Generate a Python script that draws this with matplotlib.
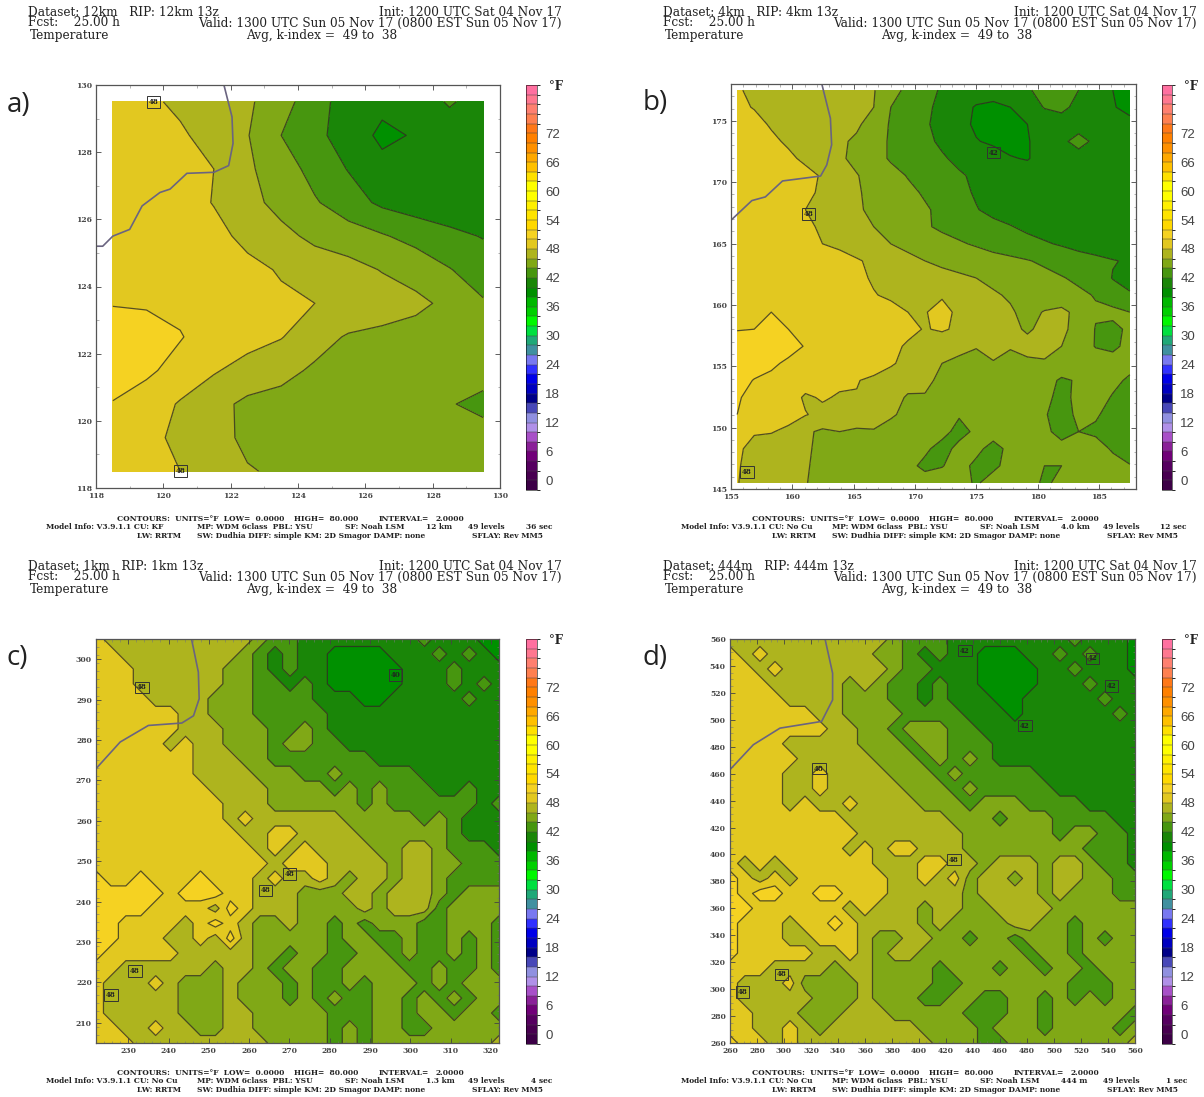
import numpy as np
import matplotlib
matplotlib.use('Agg')
import matplotlib.pyplot as plt
from matplotlib.colors import ListedColormap, BoundaryNorm
from matplotlib.colorbar import ColorbarBase

W, H = 1204, 1097

# temperature (deg F), rows run top to bottom
temp_a = [
    [49.0, 48.4, 47.6, 47.0, 46.3, 44.9, 42.7, 41.2, 40.6, 41.0, 42.2, 41.2],
    [49.3, 48.9, 48.3, 47.2, 46.1, 44.0, 42.4, 41.3, 39.5, 40.2, 41.0, 41.0],
    [49.6, 49.3, 48.7, 48.0, 46.3, 45.0, 43.3, 41.9, 40.7, 40.5, 40.6, 40.5],
    [50.0, 49.6, 49.0, 47.9, 46.7, 45.3, 44.2, 42.9, 41.6, 41.0, 40.7, 40.5],
    [50.0, 49.8, 49.3, 48.7, 47.4, 46.6, 45.5, 44.9, 44.2, 43.3, 42.5, 41.9],
    [50.0, 50.0, 49.7, 49.2, 48.6, 47.8, 47.2, 46.7, 45.9, 45.3, 44.1, 43.0],
    [49.9, 49.8, 49.6, 49.3, 48.9, 48.4, 48.0, 47.6, 47.0, 46.4, 45.6, 44.2],
    [51.0, 50.8, 50.1, 49.2, 48.8, 48.1, 46.8, 45.8, 45.5, 45.3, 45.2, 45.0],
    [50.9, 50.3, 49.4, 48.2, 47.2, 46.6, 45.7, 45.4, 45.2, 45.1, 45.0, 44.6],
    [49.9, 49.2, 47.8, 46.6, 45.6, 45.3, 45.1, 45.0, 45.0, 44.8, 44.1, 43.6],
    [49.5, 48.5, 47.6, 47.0, 45.4, 45.2, 45.1, 45.0, 45.0, 45.0, 44.8, 44.6],
    [49.3, 48.8, 48.0, 47.2, 46.2, 45.6, 45.3, 45.2, 45.2, 45.1, 45.0, 45.0],
]

temp_b = [
    [48.1,47.8,47.5,47.3,47.1,46.9,46.6,46.3,46.1,44.8,43.5,42.6,41.8,41.4,41.2,41,41,41.8,42.6,43,42,40.9,40,39.6],
    [48.4,47.9,47.6,47.4,47.1,46.8,46.6,46.3,46,44,43.2,42.4,41.5,40.9,39.8,39.5,40,41,42.1,42.5,41.4,41,40.1,39.6],
    [49.4,48.6,47.8,47.5,47.2,47,46.6,46.3,45.2,43.8,43,42.2,41.5,40.6,39.7,39.4,39.5,40,40.8,41,41,41,40.6,40.4],
    [49.6,49.2,48.4,47.7,47.3,46.9,46.3,45.7,44.7,43.8,43.1,42.4,41.7,41,40.1,39.7,39.5,39.9,40.6,41.5,42.8,41.5,41.7,41],
    [50,49.7,49.2,48.4,47.6,47,46.3,45.5,44.7,43.8,43.3,42.8,42.2,41.6,41.2,40.8,40.1,39.9,40.6,40.8,41,41,41,41],
    [50,49.9,49.6,49.3,48.6,47.8,46.9,46.1,45.3,44.6,43.9,43.3,42.8,42.2,41.7,41.3,41,40.8,40.8,40.8,40.8,40.8,40.8,40.6],
    [50,49.9,49.6,49.2,48.4,47.7,46.9,46.2,45.5,45,44.4,43.8,43.2,42.5,41.8,41.3,41,40.8,40.8,40.7,40.7,40.7,40.7,40.2],
    [50,49.8,49.5,49,48,47.4,46.8,46.2,45.7,45.2,44.7,44.2,43.6,42.9,42.1,41.5,41.1,40.9,40.8,40.8,40.8,40.8,40.8,40.7],
    [50,49.9,49.7,49.3,48.4,47.7,47.1,46.6,46,45.4,44.8,44.2,43.7,43.3,43,42.5,42.1,41.6,41.2,41,40.8,40.8,40.8,40.8],
    [50,50,49.8,49.4,48.8,48,47.5,47,46.5,46,45.5,45.1,44.6,44.2,43.8,43.4,43,42.6,42.2,41.8,41.3,41,40.8,40.8],
    [50,50,50,49.8,49.6,49.3,48.9,48.2,47.6,47,46.5,46,45.6,45.3,45,44.6,44.4,44.1,43.7,43.3,42.9,42.5,42.1,41.8],
    [50,50,50,50,49.8,49.5,49.1,48.4,47.8,47.5,47.2,46.9,46.6,46.3,46,45.6,45.3,44.9,44.5,44.1,43.7,43.3,41.9,41],
    [50,50,50,50,49.9,49.7,49.3,48.8,48.1,47.7,47.4,47.3,47.8,47,46.6,46.2,45.8,45.4,45,44.7,44.3,43.9,43.1,42.3],
    [50,50,50,50,50,49.9,49.7,49.4,49,48.6,48,47.9,48.6,47.6,47.2,46.8,46.2,45.5,46.1,46.5,45.4,44.2,44.4,44],
    [49.9,50,50.1,50,50,50,49.9,49.6,49.2,48.8,48.4,47.9,48.2,47.7,47.3,46.9,46.4,45.8,46.4,46.3,45.5,43.9,43.6,44.3],
    [51,51,51,50.6,49.9,49.7,50,49.8,49.1,48.4,47.8,47.3,46.9,46.5,46.1,46.5,46.1,46.5,46.6,46,45,43.9,43.5,44.7],
    [51,51,50.3,49.7,49.5,49.4,49.3,49.8,49,48.2,47.5,46.8,46,45.6,45.4,45.9,45.6,45.7,45.8,45.4,45,45,45,44.8],
    [50.8,49.9,49.6,49.4,49,48.8,48.4,48.1,47.6,47.2,46.7,46.3,45.7,45.4,45.2,45.1,45,45,44.8,43.7,44.2,44.8,44.6,43.6],
    [50.1,49.7,49.4,49,47.7,48.2,47.8,47.9,47.4,46.7,45.8,45.9,45.4,45.1,45,45,45,45,44.6,43.3,44.6,45,43.8,43],
    [50,49.5,49.2,48.7,48.1,47.5,46.9,46.8,46.6,46.2,45.6,45.3,45.1,44.2,44.8,45,45,45,44.2,43,44.5,44.2,43.4,43],
    [49,48.2,48.1,47.6,46.3,45.7,46,45.8,45.9,45.4,45.2,45.1,44.7,43.3,44.4,45,45,45,44.4,43.4,44,43.7,44,43],
    [48.4,47.3,47.1,47,46.3,45.5,45.2,45.1,45,45,45,44.4,43.2,44.6,44.6,43.2,44.6,45,45,44.6,45,44.7,43.8,43],
    [48.2,47.2,47,46.8,46.2,45.4,45.1,45,45,45,44.6,43.5,43.9,44.8,43.5,43.5,44.8,45,44,44,45,45,44.6,44.1],
    [48.1,47.1,46.9,46.6,46.1,45.3,45.1,45,45,45,45,45,45,44.9,43.7,45,45,45,43.6,44.6,45,45,45,45],
]

temp_c = [
    [49,47,47,47,47,47,47,47,47,47,47,45,43,43,41,41,41,41,41,41,41,41,43,41,41,41,39,39],
    [49,49,47,47,47,47,47,47,47,47,45,43,41,43,41,41,39,39,39,39,41,41,41,43,41,43,41,39],
    [49,49,49,47,47,47,47,47,47,45,45,43,41,43,41,41,39,39,39,39,39,41,41,41,43,41,41,41],
    [49,49,49,47,47,47,47,47,47,45,45,43,43,41,43,41,39,39,39,39,39,41,41,41,43,41,43,41],
    [49,49,49,49,47,47,47,47,45,45,45,43,43,43,43,41,41,41,39,39,41,41,41,41,41,43,41,41],
    [49,49,49,49,49,49,47,47,45,45,45,43,43,43,43,43,41,41,41,41,41,41,41,41,41,41,41,41],
    [49,49,49,49,49,49,47,47,47,45,45,45,43,43,45,43,41,41,41,41,41,41,41,41,41,41,41,41],
    [49,49,49,49,49,47,49,47,47,45,45,45,43,45,45,43,43,41,41,41,41,41,41,41,41,41,41,41],
    [49,49,49,49,49,49,49,47,47,47,45,45,43,43,43,43,43,43,43,41,41,41,41,41,41,41,41,41],
    [49,49,49,49,49,49,49,47,47,47,47,45,45,45,43,43,45,43,43,43,43,43,41,41,41,41,41,41],
    [49,49,49,49,49,49,49,49,47,47,47,47,45,45,45,45,43,45,43,45,43,43,43,41,41,43,41,41],
    [49,49,49,49,49,49,49,49,49,47,47,47,45,45,45,45,45,45,43,45,43,43,43,43,43,43,41,43],
    [49,49,49,49,49,49,49,49,49,47,49,47,47,47,47,47,47,45,45,45,45,45,43,45,43,41,41,41],
    [49,49,49,49,49,49,49,49,49,49,47,47,49,49,47,47,47,47,45,45,45,45,45,45,43,41,41,41],
    [49,49,49,49,49,49,49,49,49,49,49,47,49,47,49,47,47,47,47,45,45,47,47,45,43,43,43,41],
    [49,49,49,49,49,49,49,49,49,49,49,49,47,49,49,49,47,47,47,47,45,47,47,45,45,43,43,43],
    [51,49,49,51,49,49,49,51,49,49,49,47,49,47,47,49,47,45,47,47,45,47,47,45,43,43,43,43],
    [51,51,51,51,51,49,51,51,51,49,49,47,47,47,45,45,45,47,47,45,47,47,47,45,43,45,45,45],
    [51,51,51,51,49,49,49,49,47,51,49,47,47,47,45,45,45,45,47,45,47,47,47,43,45,45,45,45],
    [51,51,49,49,49,49,47,49,51,49,47,45,45,47,45,45,43,45,43,45,45,45,43,43,45,45,45,43],
    [51,51,49,49,49,47,47,49,47,51,47,45,45,45,45,45,43,45,45,43,43,45,43,43,45,43,45,43],
    [51,49,49,49,49,49,47,47,47,47,47,45,45,43,45,45,43,43,45,45,43,45,43,43,45,43,45,43],
    [49,49,47,47,47,47,47,47,45,47,47,45,43,45,45,43,43,45,45,45,45,43,43,45,43,43,45,43],
    [49,47,47,47,49,47,45,45,45,47,45,45,45,43,45,43,43,45,43,45,45,45,43,45,43,45,45,45],
    [49,47,47,47,47,47,45,45,45,47,45,45,45,43,45,43,45,43,43,45,45,43,45,43,45,43,45,45],
    [49,47,47,47,47,47,45,45,45,47,47,45,45,45,45,45,43,43,43,45,45,43,45,45,43,45,45,43],
    [49,49,47,47,49,47,47,45,45,47,47,45,45,45,45,45,43,45,43,45,45,43,43,45,45,45,45,45],
    [49,49,49,47,47,47,47,47,47,47,47,47,45,45,45,45,43,45,43,45,45,45,45,45,45,45,45,47],
]

temp_d = [
    [47,47,47,47,47,47,47,47,47,47,47,45,43,43,43,41,41,41,41,41,41,41,41,43,41,41,41,39],
    [49,47,49,47,47,47,47,47,47,47,45,45,43,41,43,41,41,39,39,39,41,41,43,41,43,41,41,39],
    [49,49,47,49,47,47,47,47,47,47,47,45,43,43,41,41,41,39,39,39,39,41,41,43,41,41,41,39],
    [49,49,49,47,47,47,47,47,45,47,45,43,43,41,43,41,41,39,39,39,39,41,41,41,43,41,41,41],
    [49,49,49,49,47,47,47,47,45,45,45,43,43,41,43,41,41,41,39,39,41,41,41,41,41,43,41,41],
    [49,49,49,49,49,49,47,47,45,45,45,45,43,43,43,43,41,41,41,39,41,41,41,41,41,41,43,41],
    [49,49,49,49,49,49,49,47,47,45,45,43,45,45,45,43,43,41,41,41,41,41,41,41,41,41,41,41],
    [49,49,49,49,47,47,47,47,47,45,45,45,43,45,45,43,43,43,41,41,41,41,41,41,41,41,41,41],
    [49,49,49,49,49,47,47,47,47,47,45,45,45,43,45,43,45,43,41,41,41,41,41,41,41,41,41,41],
    [49,49,49,49,47,47,49,47,47,47,47,45,45,45,43,45,43,43,43,43,43,41,41,41,41,41,41,41],
    [49,49,49,49,47,47,49,47,47,47,47,47,45,45,45,43,45,43,43,43,43,43,41,41,41,41,41,41],
    [49,49,49,49,47,49,47,47,49,47,47,47,47,45,45,45,43,45,45,45,43,43,43,43,41,41,41,41],
    [49,49,49,49,49,49,49,49,47,47,47,47,47,47,47,45,45,45,43,45,45,45,43,43,43,43,41,41],
    [49,49,49,49,49,49,49,49,49,47,47,47,47,47,47,47,45,45,45,45,45,45,43,45,45,43,43,41],
    [49,49,49,49,49,49,49,49,47,49,47,49,49,47,47,47,45,45,45,45,45,45,45,45,43,43,43,41],
    [49,47,49,47,49,49,49,49,49,49,47,47,47,49,49,47,47,45,47,47,47,45,47,47,45,43,43,41],
    [51,49,47,49,47,49,49,49,49,49,49,47,47,49,47,49,45,47,47,45,47,45,47,47,45,45,43,43],
    [51,49,51,51,49,49,51,51,49,49,49,47,47,47,47,47,45,47,47,47,47,45,47,45,45,45,43,43],
    [51,51,49,49,49,49,49,49,47,49,47,47,47,45,47,47,45,45,47,47,47,47,45,45,45,45,45,45],
    [51,49,49,49,47,49,49,51,49,47,47,47,47,45,47,45,45,45,45,47,47,45,45,43,45,45,45,45],
    [51,49,49,49,47,47,49,49,49,47,45,45,47,47,45,45,43,45,45,43,45,45,45,43,45,43,45,45],
    [51,49,49,49,49,49,47,47,49,47,45,47,47,45,45,45,45,45,45,45,43,45,45,43,45,45,45,45],
    [49,49,49,47,47,47,47,45,47,47,45,45,45,45,43,45,45,45,43,45,45,43,45,45,43,45,45,45],
    [49,47,47,47,49,45,45,45,45,47,45,45,45,45,43,43,45,45,45,45,45,45,45,43,43,43,45,45],
    [49,47,47,47,47,47,45,45,45,47,45,45,45,43,43,45,45,43,43,45,45,43,45,43,45,43,45,45],
    [49,49,47,47,47,45,45,45,47,47,47,45,45,45,45,45,43,43,43,45,45,43,45,45,45,45,45,43],
    [49,49,47,47,49,47,45,47,47,47,47,47,47,45,45,45,45,43,45,45,45,43,45,45,45,45,43,45],
    [51,49,49,47,49,47,47,47,47,47,47,47,47,47,45,45,45,43,43,45,45,45,45,45,45,45,45,47],
]

# coastline / county line
coast_a_x = [121.8, 122.04, 122.07, 121.94, 121.5, 120.7, 120.2, 119.9, 119.37, 119.0, 118.5, 118.2, 118.0]
coast_a_y = [130.0, 129.05, 128.26, 127.6, 127.4, 127.37, 126.9, 126.8, 126.4, 125.7, 125.5, 125.2, 125.2]
coast_b_x = [162.4, 163.1, 163.2, 162.8, 162.3, 159.2, 157.8, 156.7, 155.0]
coast_b_y = [178.0, 175.2, 173.05, 171.4, 170.5, 170.1, 168.8, 168.5, 166.9]
coast_c_x = [245.7, 247.4, 247.6, 246.2, 243.3, 235.0, 228.0, 222.0]
coast_c_y = [305.0, 296.8, 290.2, 286.0, 284.2, 283.6, 279.5, 272.9]
coast_d_x = [330.4, 336.0, 336.0, 327.9, 297.0, 277.3, 260.0]
coast_d_y = [560.0, 534.6, 514.8, 498.8, 493.8, 481.5, 463.0]

# boxed contour labels: x, y, text
labels_a = [(119.7, 129.5, '48'), (120.5, 118.5, '48')]
labels_b = [(161.3, 167.4, '48'), (176.4, 172.4, '42'), (156.3, 146.4, '48')]
labels_c = [(233.4, 293.0, '48'), (231.7, 222.8, '48'), (225.7, 216.9, '48'),
            (270.0, 246.8, '48'), (264.0, 242.8, '48'), (296.4, 296.1, '40')]
labels_d = [(434.0, 551.4, '42'), (528.6, 545.7, '42'), (542.7, 525.2, '42'), (478.5, 495.6, '42'),
            (326.0, 463.7, '48'), (426.0, 396.2, '48'), (298.2, 311.0, '48'), (269.0, 297.8, '48')]

level_edges = list(range(-2, 84, 2))
level_colors = ['#3c0046', '#480050', '#560060', '#700078', '#8a2098', '#a850c8', '#b090e8', '#9090e0',
                '#4848b8', '#000088', '#0000c0', '#0000e8', '#3030ff', '#7878f0', '#4090a0', '#20a878',
                '#00e040', '#00f800', '#00d000', '#00b800', '#009000', '#1a8608', '#47960f', '#80a816',
                '#aeb41e', '#e2c820', '#f5d222', '#ffd800', '#ffe400', '#fff000', '#ffff00', '#ffff00',
                '#ffe000', '#ffc000', '#ffa800', '#ff9000', '#ff8000', '#ff7818', '#ff8050', '#ff8070',
                '#ff7890', '#ff70a0']
bar_ticks = [0, 6, 12, 18, 24, 30, 36, 42, 48, 54, 60, 66, 72]

cmap = ListedColormap(level_colors)
norm = BoundaryNorm(level_edges, cmap.N)

plt.rcParams['font.family'] = ['DejaVu Serif']
fig = plt.figure(figsize=(W / 100, H / 100), dpi=100, facecolor='white')


def make_axes(x0, y0, x1, y1):
    return fig.add_axes([x0 / W, 1 - y1 / H, (x1 - x0) / W, (y1 - y0) / H])


def put(x, y, s, size=8.7, **kw):
    fig.text(x / W, 1 - y / H, s, fontsize=size, color='#222222', va='center', **kw)


def draw_panel(box, bar_box, temp, extent, xlim, ylim, major, minor, coast_x, coast_y, labels):
    ax = make_axes(*box)
    temp = np.array(temp, dtype=float)[::-1]
    xs = np.linspace(extent[0], extent[1], temp.shape[1])
    ys = np.linspace(extent[2], extent[3], temp.shape[0])
    ax.contourf(xs, ys, temp, levels=level_edges, cmap=cmap, norm=norm)
    ax.contour(xs, ys, temp, levels=level_edges, colors='#2e2e22', linewidths=0.9, alpha=0.8)
    ax.plot(coast_x, coast_y, color='#6a6480', lw=1.2, clip_on=True)
    for lx, ly, s in labels:
        ax.text(lx, ly, s, fontsize=5, fontweight='bold', ha='center', va='center', color='#222222',
                bbox=dict(boxstyle='square,pad=0.25', fc='none', ec='#333333', lw=0.7))
    ax.set_xlim(*xlim)
    ax.set_ylim(*ylim)
    ax.set_xticks(np.arange(xlim[0] + (-xlim[0]) % major, xlim[1] + 1, major))
    ax.set_yticks(np.arange(ylim[0] + (-ylim[0]) % major, ylim[1] + 1, major))
    ax.set_xticks(np.arange(xlim[0], xlim[1] + 1, minor), minor=True)
    ax.set_yticks(np.arange(ylim[0], ylim[1] + 1, minor), minor=True)
    ax.tick_params(which='major', direction='in', top=True, right=True, length=3.5, width=0.6,
                   labelsize=5.5, pad=3, colors='#444444')
    ax.tick_params(which='minor', direction='in', top=True, right=True, length=1.8, width=0.4, colors='#777777')
    for lab in ax.get_xticklabels() + ax.get_yticklabels():
        lab.set_fontweight('bold')
    for sp in ax.spines.values():
        sp.set_color('#555555')
        sp.set_linewidth(0.9)

    cax = make_axes(*bar_box)
    cb = ColorbarBase(cax, cmap=cmap, norm=norm, boundaries=level_edges, spacing='proportional',
                      ticks=bar_ticks, drawedges=True)
    cb.dividers.set_color('#444444')
    cb.dividers.set_linewidth(0.35)
    cb.outline.set_linewidth(0.4)
    cb.ax.tick_params(length=0, labelsize=9.5, pad=6, labelcolor='#444444')
    for lab in cb.ax.get_yticklabels():
        lab.set_fontfamily('Liberation Sans')
    put(bar_box[2] + 12, bar_box[1] + 2, '°F', size=8.5, fontweight='bold')


def header(dx, dy, run, rip, cu, res, dt):
    put(28 + dx, 12 + dy, 'Dataset: %s   RIP: %s 13z' % (run, rip))
    put(28 + dx, 23 + dy, 'Fcst:    25.00 h')
    put(30 + dx, 35 + dy, 'Temperature')
    put(562 + dx, 12 + dy, 'Init: 1200 UTC Sat 04 Nov 17', ha='right')
    put(562 + dx, 23 + dy, 'Valid: 1300 UTC Sun 05 Nov 17 (0800 EST Sun 05 Nov 17)', ha='right')
    put(246 + dx, 35 + dy, 'Avg, k-index =  49 to  38')
    fy = 519 + dy
    s = 5.4
    put(117 + dx, fy, 'CONTOURS:  UNITS=°F  LOW=  0.0000', size=s, fontweight='bold')
    put(294 + dx, fy, 'HIGH=  80.000', size=s, fontweight='bold')
    put(379 + dx, fy, 'INTERVAL=', size=s, fontweight='bold')
    put(436 + dx, fy, '2.0000', size=s, fontweight='bold')
    fy = 527 + dy
    put(46 + dx, fy, 'Model Info: V3.9.1.1 CU: %s' % cu, size=s, fontweight='bold')
    put(197 + dx, fy, 'MP: WDM 6class  PBL: YSU', size=s, fontweight='bold')
    put(345 + dx, fy, 'SF: Noah LSM', size=s, fontweight='bold')
    put(426 + dx, fy, res, size=s, fontweight='bold')
    put(468 + dx, fy, '49 levels', size=s, fontweight='bold')
    put(552 + dx, fy, dt, size=s, fontweight='bold', ha='right')
    fy = 536 + dy
    put(137 + dx, fy, 'LW: RRTM', size=s, fontweight='bold')
    put(197 + dx, fy, 'SW: Dudhia DIFF: simple KM: 2D Smagor DAMP: none', size=s, fontweight='bold')
    put(472 + dx, fy, 'SFLAY: Rev MM5', size=s, fontweight='bold')


draw_panel((96, 85, 500, 488), (526, 85, 537, 490), temp_a, (118.5, 129.5, 118.5, 129.5),
           (118, 130), (118, 130), 2, 1, coast_a_x, coast_a_y, labels_a)
draw_panel((731, 84, 1136, 489), (1162, 85, 1172, 490), temp_b, (155.5, 187.5, 145.5, 177.5),
           (155, 188), (145, 178), 5, 1, coast_b_x, coast_b_y, labels_b)
draw_panel((96, 639, 499, 1043), (526, 639, 537, 1044), temp_c, (222, 322, 205, 305),
           (222, 322), (205, 305), 10, 2, coast_c_x, coast_c_y, labels_c)
draw_panel((730, 639, 1135, 1043), (1162, 639, 1172, 1044), temp_d, (260, 560, 260, 560),
           (260, 560), (260, 560), 20, 5, coast_d_x, coast_d_y, labels_d)

header(0, 0, '12km', '12km', 'KF', '12 km', '36 sec')
header(635, 0, '4km', '4km', 'No Cu', '4.0 km', '12 sec')
header(0, 554, '1km', '1km', 'No Cu', '1.3 km', '4 sec')
header(635, 554, '444m', '444m', 'No Cu', '444 m', '1 sec')

for px, py, s in [(7, 105, 'a)'), (643, 103, 'b)'), (7, 658, 'c)'), (643, 658, 'd)')]:
    fig.text(px / W, 1 - py / H, s, fontsize=20, family='Open Sans', color='#222222', va='center')

fig.savefig('out.png', dpi=100)
